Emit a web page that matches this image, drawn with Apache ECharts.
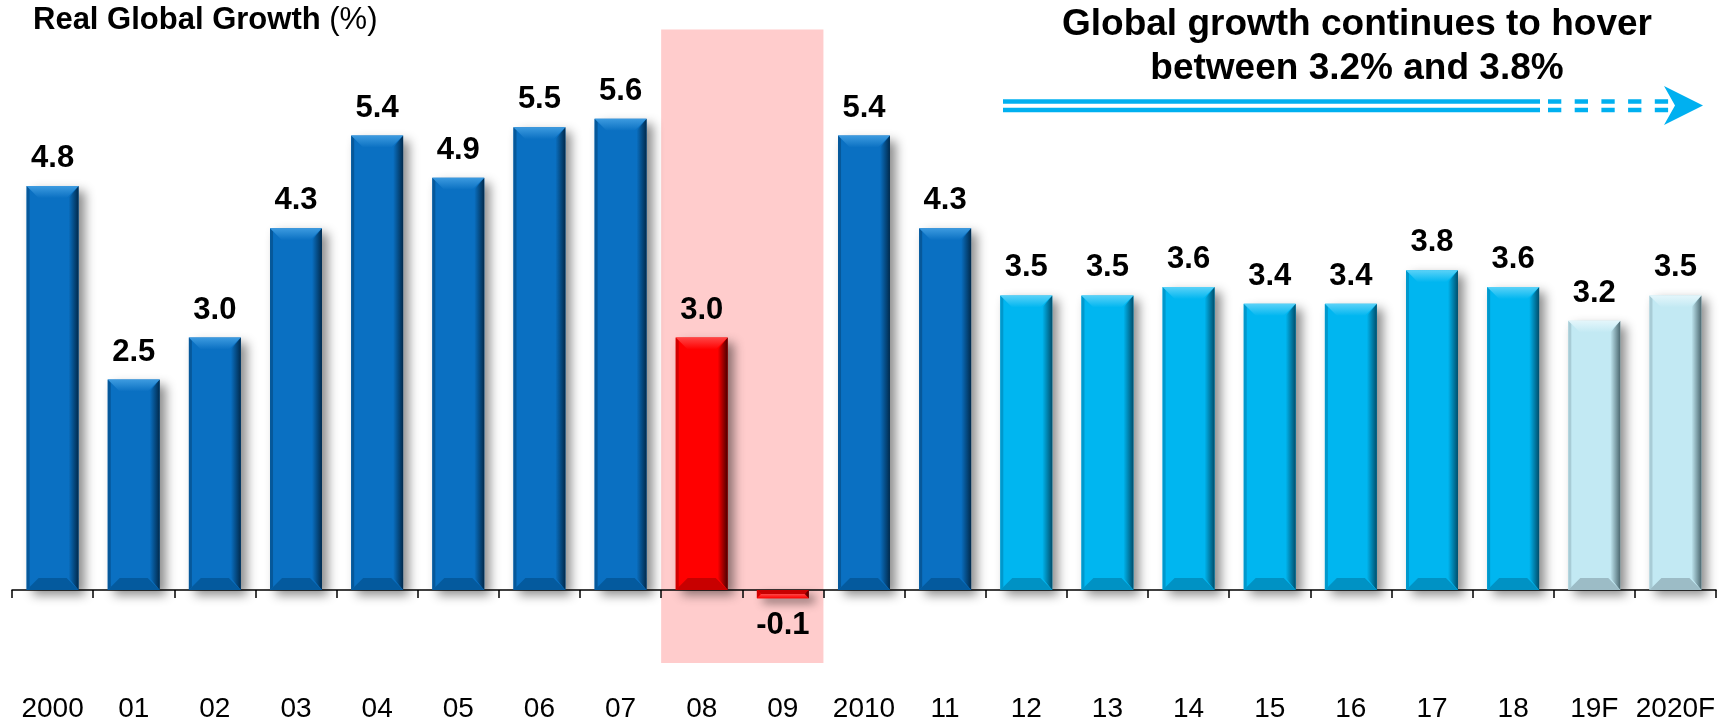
<!DOCTYPE html>
<html><head><meta charset="utf-8">
<script src="https://cdn.jsdelivr.net/npm/echarts@6/dist/echarts.min.js"></script>
<style>html,body{margin:0;padding:0;background:#fff}#c{width:1725px;height:723px}</style>
</head><body><div id="c"></div>
<script>
// ---- data ----
const categories = ['2000','01','02','03','04','05','06','07','08','09','2010','11','12','13','14','15','16','17','18','19F','2020F'];
const growth = [4.8,2.5,3.0,4.3,5.4,4.9,5.5,5.6,3.0,-0.1,5.4,4.3,3.5,3.5,3.6,3.4,3.4,3.8,3.6,3.2,3.5];
const barGroup = ['hist','hist','hist','hist','hist','hist','hist','hist','crisis','crisis','hist','hist','recent','recent','recent','recent','recent','recent','recent','forecast','forecast'];
const crisisSpan = ['08','09'];
const crisisBand = [-0.87, 6.66];
const titleMain = 'Real Global Growth';
const titleUnit = '(%)';
const noteLines = ['Global growth continues to hover', 'between 3.2% and 3.8%'];

// ---- styles ----
const FONT = "'Liberation Sans', Arial, sans-serif";
const palette = {
  hist:     {base:'#0A70C2', top:'#3D9BE0', bottom:'#045A9E', side:'#012A4C', left:'#06589A'},
  crisis:   {base:'#FF0000', top:'#FF4545', bottom:'#C80000', side:'#4A0000', left:'#D00000'},
  recent:   {base:'#00B6F0', top:'#5AD2F8', bottom:'#0092C4', side:'#004E6C', left:'#0098CC'},
  forecast: {base:'#C2E9F3', top:'#E4F6FB', bottom:'#9CBCC6', side:'#4C6870', left:'#A8CCD6'}
};
const BAR_RATIO = 0.64;

const chart = echarts.init(document.getElementById('c'), null, {renderer:'canvas'});

const barData = growth.map((v, i) => ({
  value: v,
  itemStyle: {color: palette[barGroup[i]].base},
  label: {position: v < 0 ? 'bottom' : 'top'}
}));

function bevelItem(params, api) {
  const i = api.value(0), v = api.value(1);
  const g = palette[barGroup[i]];
  const pT = api.coord([i, v]);
  const pB = api.coord([i, 0]);
  const bw = api.size([1, 0])[0] * BAR_RATIO;
  const x0 = pT[0] - bw / 2, x1 = x0 + bw;
  const yT = pT[1], yB = pB[1];
  const s = yB > yT ? 1 : -1;
  const h = Math.abs(yB - yT);
  const d = Math.min(12, h / 2);
  const sw = Math.min(10, bw / 4);
  const children = [
    { type:'polygon', shape:{points:[[x1,yT],[x1,yB],[x1-sw,yB-s*d],[x1-sw,yT+s*d]]},
      style:{fill:new echarts.graphic.LinearGradient(0,0,1,0,[{offset:0,color:g.base},{offset:1,color:g.side}])} },
    { type:'polygon', shape:{points:[[x0,yT],[x0+3,yT+s*Math.min(3,d)],[x0+3,yB-s*Math.min(3,d)],[x0,yB]]},
      style:{fill:g.left} },
    { type:'polygon', shape:{points:[[x0,yB],[x1,yB],[x1-d,yB-s*d],[x0+d,yB-s*d]]},
      style:{fill:g.bottom} },
    { type:'polygon', shape:{points:[[x0,yT],[x1,yT],[x1-d,yT+s*d],[x0+d,yT+s*d]]},
      style:{fill:new echarts.graphic.LinearGradient(0,0,0,1,[{offset:0,color:g.top},{offset:1,color:g.base}])} }
  ];
  return {type:'group', children};
}

function shadeItem(params, api) {
  const a = api.value(0), b = api.value(1);
  const w = api.size([1, 0])[0];
  const pA = api.coord([a, api.value(3)]);
  const pB = api.coord([b, api.value(2)]);
  return {type:'rect', shape:{x:pA[0]-w/2, y:pA[1], width:(pB[0]+w/2)-(pA[0]-w/2), height:pB[1]-pA[1]},
          style:{fill:'#FFCCCC'}};
}

const option = {
  backgroundColor:'#ffffff',
  animation:false,
  title:{
    text:'{b|' + titleMain + '}{n| ' + titleUnit + '}',
    left:33, top:5, padding:0,
    textStyle:{rich:{
      b:{fontFamily:FONT, fontWeight:'bold', fontSize:31, color:'#000'},
      n:{fontFamily:FONT, fontWeight:'normal', fontSize:31, color:'#000'}
    }}
  },
  grid:{left:12, right:9, top:1, bottom:49, containLabel:false, outerBoundsMode:'none'},
  xAxis:[
    {
      type:'category', data:categories,
      axisLine:{onZero:true, lineStyle:{color:'#000', width:1.5}},
      axisTick:{show:true, length:8, lineStyle:{color:'#000', width:1.5}},
      axisLabel:{show:false},
      splitLine:{show:false}
    },
    {
      type:'category', data:categories, position:'bottom',
      axisLine:{show:false, onZero:false},
      axisTick:{show:false},
      axisLabel:{interval:0, fontFamily:FONT, fontSize:28, lineHeight:28, color:'#000', margin:21},
      splitLine:{show:false}
    }
  ],
  yAxis:{type:'value', min:-1, max:7, show:false, splitLine:{show:false}},
  series:[
    {
      type:'custom', z:0, silent:true,
      renderItem:shadeItem,
      data:[[categories.indexOf(crisisSpan[0]), categories.indexOf(crisisSpan[1]), crisisBand[0], crisisBand[1]]],
      encode:{x:[0,1], y:[2,3]}
    },
    {
      type:'bar', z:2, barWidth:(BAR_RATIO*100)+'%',
      data:barData,
      itemStyle:{shadowBlur:10, shadowColor:'rgba(0,0,0,0.45)', shadowOffsetX:6, shadowOffsetY:5},
      label:{show:true, distance:12, fontFamily:FONT, fontWeight:'bold', fontSize:31, color:'#000',
             formatter:p => p.value.toFixed(1)}
    },
    {
      type:'custom', z:3, silent:true,
      renderItem:bevelItem,
      data:growth.map((v,i)=>[i,v]),
      encode:{x:0, y:1}
    }
  ],
  graphic:[
    {type:'text', x:1357, y:47, z:10,
     style:{text:noteLines.join('\n'), fontFamily:FONT, fontWeight:'bold', fontSize:37, lineHeight:44,
            fill:'#000', align:'center', verticalAlign:'middle'}},
    {type:'group', z:10, children:[
      {type:'line', shape:{x1:1003,y1:101.5,x2:1540,y2:101.5}, style:{stroke:'#00B0F0', lineWidth:4.5}},
      {type:'line', shape:{x1:1003,y1:110,x2:1540,y2:110}, style:{stroke:'#00B0F0', lineWidth:4.5}},
      {type:'line', shape:{x1:1548,y1:101.5,x2:1670,y2:101.5}, style:{stroke:'#00B0F0', lineWidth:4.5, lineDash:[13.3,13.4]}},
      {type:'line', shape:{x1:1548,y1:110,x2:1670,y2:110}, style:{stroke:'#00B0F0', lineWidth:4.5, lineDash:[13.3,13.4]}},
      {type:'polygon', shape:{points:[[1664,86],[1703,105.5],[1664,125],[1675,105.5]]}, style:{fill:'#00B0F0'}}
    ]}
  ]
};
chart.setOption(option);
</script>
</body></html>
